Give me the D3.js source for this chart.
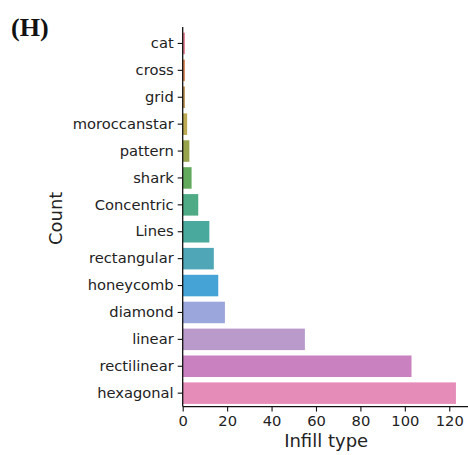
<!DOCTYPE html>
<html>
<head>
<meta charset="utf-8">
<script src="https://cdn.jsdelivr.net/npm/d3@7"></script>
<style>
  html, body { margin: 0; padding: 0; background: #fff; }
  svg { display: block; }
</style>
</head>
<body>
<svg id="chart" width="468" height="455"></svg>
<script>
// Infill types and how many prints use each
const categories = ["cat", "cross", "grid", "moroccanstar", "pattern", "shark", "Concentric",
  "Lines", "rectangular", "honeycomb", "diamond", "linear", "rectilinear", "hexagonal"];
const counts = [1, 1, 1, 2, 3, 4, 7, 12, 14, 16, 19, 55, 103, 123];
const xTicks = [0, 20, 40, 60, 80, 100, 120];

// Softened HUSL-style palette, one colour per category
const palette = ["#e68294", "#dc8a5c", "#c5975a", "#bcaa55", "#98a44c", "#62ab5c", "#4fab86",
  "#4aa99d", "#4ea6b6", "#46a3d6", "#9aa6dc", "#b99acb", "#c981bf", "#e68cb9"];

const svg = d3.select("#chart");
const plotLeft = 182.7, plotRight = 469.6, plotTop = 30, plotBottom = 406.6;
const fontSans = "'DejaVu Sans', sans-serif";

const x = d3.scaleLinear().domain([0, d3.max(counts) * 1.05]).range([plotLeft, plotRight]);
const y = d3.scaleBand().domain(categories).range([plotTop, plotBottom])
  .paddingInner(0.2).paddingOuter(0.1);

// Bars
svg.append("g").selectAll("rect")
  .data(categories)
  .join("rect")
  .attr("x", x(0))
  .attr("y", d => y(d))
  .attr("width", (d, i) => x(counts[i]) - x(0))
  .attr("height", y.bandwidth())
  .attr("fill", (d, i) => palette[i]);

// Y axis (categories)
const yAxis = svg.append("g")
  .attr("transform", `translate(${plotLeft},0)`)
  .call(d3.axisLeft(y).tickSize(5).tickPadding(4).tickSizeOuter(0));
yAxis.select(".domain").remove();
yAxis.selectAll("text").attr("font-family", fontSans).attr("font-size", "14.7px").attr("fill", "#222");
yAxis.selectAll("line").attr("stroke", "#111").attr("stroke-width", 1.1);

// X axis (counts)
const xAxis = svg.append("g")
  .attr("transform", `translate(0,${plotBottom})`)
  .call(d3.axisBottom(x).tickValues(xTicks).tickSize(5).tickPadding(4).tickSizeOuter(0));
xAxis.select(".domain").remove();
xAxis.selectAll("text").attr("font-family", fontSans).attr("font-size", "14.7px").attr("fill", "#222");
xAxis.selectAll("line").attr("stroke", "#111").attr("stroke-width", 1.1);

// Spines
svg.append("line").attr("x1", plotLeft).attr("x2", plotLeft).attr("y1", plotTop - 3).attr("y2", plotBottom)
  .attr("stroke", "#111").attr("stroke-width", 1.3);
svg.append("line").attr("x1", plotLeft).attr("x2", plotRight).attr("y1", plotBottom).attr("y2", plotBottom)
  .attr("stroke", "#111").attr("stroke-width", 1.3);

// Axis titles
svg.append("text")
  .attr("x", (plotLeft + plotRight) / 2).attr("y", 447)
  .attr("text-anchor", "middle")
  .attr("font-family", fontSans).attr("font-size", "18px").attr("fill", "#222")
  .text("Infill type");

svg.append("text")
  .attr("transform", `translate(62,${(plotTop + plotBottom) / 2}) rotate(-90)`)
  .attr("text-anchor", "middle")
  .attr("font-family", fontSans).attr("font-size", "18px").attr("fill", "#222")
  .text("Count");

// Panel label
svg.append("text")
  .attr("x", 11).attr("y", 36)
  .attr("font-family", "'Liberation Serif', 'Times New Roman', serif")
  .attr("font-weight", "bold").attr("font-size", "26px").attr("fill", "#111")
  .text("(H)");
</script>
</body>
</html>
